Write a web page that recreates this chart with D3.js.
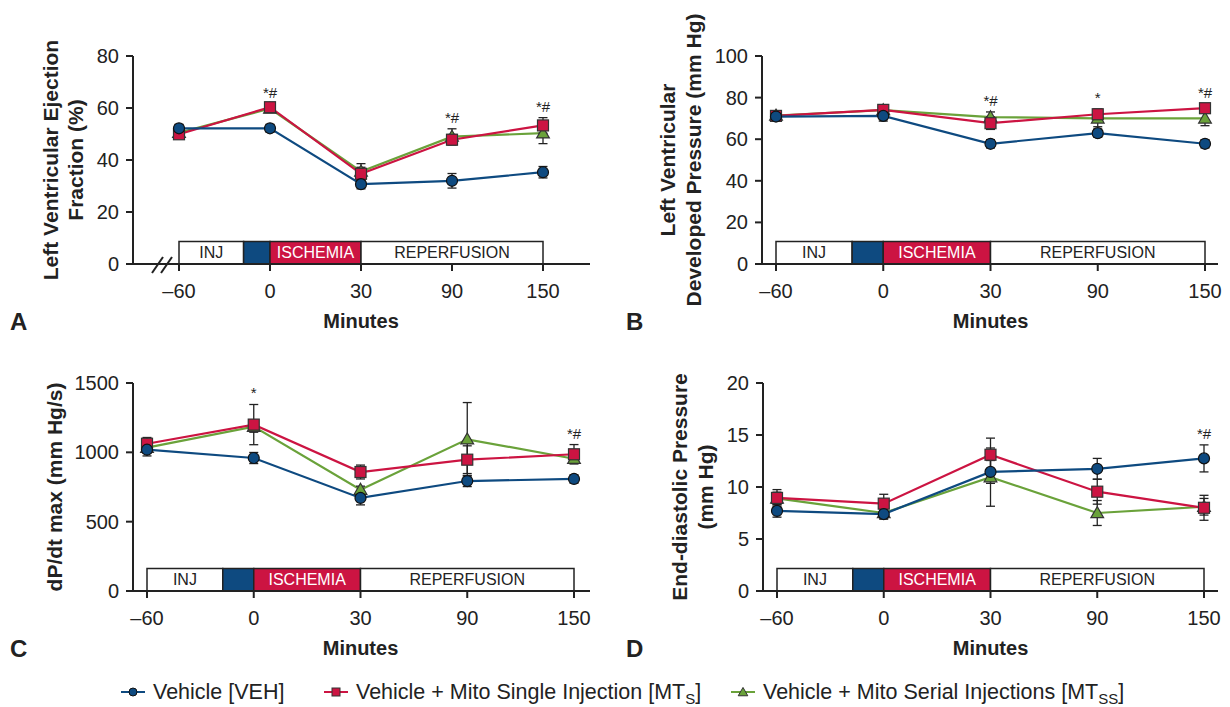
<!DOCTYPE html>
<html>
<head>
<meta charset="utf-8">
<script src="https://cdn.jsdelivr.net/npm/d3@7"></script>
<style>
  body { margin: 0; background: #fff; }
  text { font-family: "Liberation Sans", Arial, Helvetica, sans-serif; fill: #222; }
</style>
</head>
<body>
<div id="chart"></div>
<script>
// categories (x axis, equally spaced)
var minutes = ["–60", "0", "30", "90", "150"];

// panel A: LV ejection fraction (%)
var aVeh = [52.2, 52.2, 30.7, 32.0, 35.3];
var aVehErr = [1.5, 1.5, 1.8, 2.8, 2.2];
var aMts = [49.9, 60.3, 34.7, 47.8, 53.3];
var aMtsErr = [1.5, 1.2, 2.5, 2.0, 3.0];
var aMtss = [50.5, 59.8, 35.6, 49.0, 50.3];
var aMtssErr = [1.5, 1.2, 3.0, 3.0, 4.0];
var aSig = ["", "*#", "", "*#", "*#"];

// panel B: LV developed pressure (mm Hg)
var bVeh = [70.9, 71.2, 57.8, 62.9, 57.8];
var bVehErr = [2.0, 2.5, 2.0, 2.0, 2.0];
var bMts = [71.2, 74.1, 67.7, 72.0, 74.9];
var bMtsErr = [2.0, 2.0, 3.0, 2.5, 2.0];
var bMtss = [71.4, 74.0, 70.6, 70.0, 70.0];
var bMtssErr = [2.0, 2.0, 2.5, 4.0, 3.5];
var bSig = ["", "", "*#", "*", "*#"];

// panel C: dP/dt max (mm Hg/s)
var cVeh = [1019, 959, 671, 793, 808];
var cVehErr = [45, 40, 50, 40, 30];
var cMts = [1062, 1200, 858, 947, 986];
var cMtsErr = [45, 145, 50, 100, 70];
var cMtss = [1034, 1185, 731, 1094, 954];
var cMtssErr = [40, 40, 25, 265, 25];
var cSig = ["", "*", "", "", "*#"];

// panel D: end-diastolic pressure (mm Hg)
var dVeh = [7.7, 7.4, 11.45, 11.75, 12.75];
var dVehErr = [0.6, 0.5, 1.1, 1.0, 1.3];
var dMts = [8.95, 8.4, 13.1, 9.55, 8.0];
var dMtsErr = [0.8, 0.9, 1.6, 1.2, 1.2];
var dMtss = [8.9, 7.5, 10.95, 7.5, 8.1];
var dMtssErr = [0.6, 0.5, 2.8, 1.2, 0.8];
var dSig = ["", "", "", "", "*#"];

var yTicksA = [0, 20, 40, 60, 80];
var yTicksB = [0, 20, 40, 60, 80, 100];
var yTicksC = [0, 500, 1000, 1500];
var yTicksD = [0, 5, 10, 15, 20];

var phases = ["INJ", "", "ISCHEMIA", "REPERFUSION"];

var colVeh = "#0e4a80", colMts = "#cc1442", colMtss = "#6aa23a", ink = "#222";

var svg = d3.select('#chart').append('svg')
    .attr('width', 1230)
    .attr('height', 707);

var drawPanel = function (p) {
    var g = svg.append('g');
    var x = d3.scalePoint().domain(minutes).range([p.x0, p.x1]);
    var y = d3.scaleLinear().domain([0, p.ticks[p.ticks.length - 1]]).range([p.y0, p.y1]);

    // timeline box
    var xs = x(minutes[0]), xz = x("0"), x30 = x("30"), xe = x("150");
    var xb = xs + 0.71 * (xz - xs);
    var bh = 22.5;
    var segs = [
        {a: xs, b: xb, fill: "#fff", txt: phases[0], tc: ink},
        {a: xb, b: xz, fill: colVeh, txt: phases[1], tc: "#fff"},
        {a: xz, b: x30, fill: colMts, txt: phases[2], tc: "#fff"},
        {a: x30, b: xe, fill: "#fff", txt: phases[3], tc: ink}
    ];
    g.selectAll('rect.seg').data(segs).enter().append('rect')
        .attr('x', function (d) { return d.a; })
        .attr('y', p.y0 - bh)
        .attr('width', function (d) { return d.b - d.a; })
        .attr('height', bh)
        .attr('fill', function (d) { return d.fill; })
        .attr('stroke', ink).attr('stroke-width', 1.5);
    g.selectAll('text.seg').data(segs).enter().append('text')
        .attr('x', function (d) { return (d.a + d.b) / 2; })
        .attr('y', p.y0 - bh / 2 + 5.5)
        .attr('text-anchor', 'middle')
        .style('font-size', '16px')
        .style('fill', function (d) { return d.tc; })
        .text(function (d) { return d.txt; });

    // axes
    g.append('line').attr('x1', p.ax).attr('x2', p.ax).attr('y1', p.y1).attr('y2', p.y0)
        .attr('stroke', ink).attr('stroke-width', 2);
    g.append('line').attr('x1', p.ax - 7).attr('x2', p.xEnd).attr('y1', p.y0).attr('y2', p.y0)
        .attr('stroke', ink).attr('stroke-width', 2);
    g.selectAll('line.yt').data(p.ticks).enter().append('line')
        .attr('x1', p.ax - 7).attr('x2', p.ax)
        .attr('y1', function (d) { return y(d); }).attr('y2', function (d) { return y(d); })
        .attr('stroke', ink).attr('stroke-width', 2);
    g.selectAll('text.yt').data(p.ticks).enter().append('text')
        .attr('x', p.ax - 14)
        .attr('y', function (d) { return y(d) + 7; })
        .attr('text-anchor', 'end')
        .style('font-size', '20px')
        .text(function (d) { return d; });
    g.selectAll('line.xt').data(minutes).enter().append('line')
        .attr('x1', function (d) { return x(d); }).attr('x2', function (d) { return x(d); })
        .attr('y1', p.y0).attr('y2', p.y0 + 7)
        .attr('stroke', ink).attr('stroke-width', 2);
    g.selectAll('text.xt').data(minutes).enter().append('text')
        .attr('x', function (d) { return x(d); })
        .attr('y', p.y0 + 34)
        .attr('text-anchor', 'middle')
        .style('font-size', '20px')
        .text(function (d) { return d; });

    if (p.brk) {
        [0, 9].forEach(function (o) {
            g.append('line')
                .attr('x1', 152 + o).attr('y1', p.y0 + 9)
                .attr('x2', 163 + o).attr('y2', p.y0 - 7)
                .attr('stroke', ink).attr('stroke-width', 2);
        });
    }

    // titles
    g.append('text').attr('x', (p.x0 + p.x1) / 2).attr('y', p.y0 + 64)
        .attr('text-anchor', 'middle')
        .style('font-size', '20px').style('font-weight', 'bold')
        .text('Minutes');
    g.append('text').attr('x', p.lx).attr('y', p.y0 + 66)
        .style('font-size', '24px').style('font-weight', 'bold')
        .text(p.letter);
    var cy = (p.y0 + p.y1) / 2;
    p.title.forEach(function (t, i) {
        g.append('text')
            .attr('transform', 'translate(' + p.tx[i] + ',' + cy + ') rotate(-90)')
            .attr('text-anchor', 'middle')
            .style('font-size', '21px').style('font-weight', 'bold')
            .text(t);
    });

    var series = [
        {v: p.mtss, e: p.mtssErr, c: colMtss, m: 'tri'},
        {v: p.mts, e: p.mtsErr, c: colMts, m: 'sq'},
        {v: p.veh, e: p.vehErr, c: colVeh, m: 'circ'}
    ];
    var line = d3.line()
        .x(function (d, i) { return x(minutes[i]); })
        .y(function (d) { return y(d); });

    series.forEach(function (s) {
        g.append('path').attr('d', line(s.v))
            .attr('fill', 'none').attr('stroke', s.c).attr('stroke-width', 2.2);
    });
    series.forEach(function (s) {
        s.v.forEach(function (v, i) {
            var cx = x(minutes[i]);
            var top = y(v + s.e[i]), bot = y(v - s.e[i]);
            g.append('line').attr('x1', cx).attr('x2', cx).attr('y1', top).attr('y2', bot)
                .attr('stroke', ink).attr('stroke-width', 1.3);
            [top, bot].forEach(function (yy) {
                g.append('line').attr('x1', cx - 4.5).attr('x2', cx + 4.5).attr('y1', yy).attr('y2', yy)
                    .attr('stroke', ink).attr('stroke-width', 1.3);
            });
        });
    });
    series.forEach(function (s) {
        s.v.forEach(function (v, i) {
            var cx = x(minutes[i]), cyy = y(v);
            if (s.m === 'circ') {
                g.append('circle').attr('cx', cx).attr('cy', cyy).attr('r', 5.5)
                    .attr('fill', s.c).attr('stroke', '#111').attr('stroke-width', 1.2);
            } else if (s.m === 'sq') {
                g.append('rect').attr('x', cx - 5.5).attr('y', cyy - 5.5).attr('width', 11).attr('height', 11)
                    .attr('fill', s.c).attr('stroke', '#333').attr('stroke-width', 1.2);
            } else {
                g.append('path').attr('d', d3.symbol().type(d3.symbolTriangle).size(70)())
                    .attr('transform', 'translate(' + cx + ',' + (cyy + 1) + ')')
                    .attr('fill', s.c).attr('stroke', '#333').attr('stroke-width', 1.2);
            }
        });
    });

    // significance marks
    p.sig.forEach(function (t, i) {
        if (!t) return;
        var mx = d3.max(series, function (s) { return s.v[i] + s.e[i]; });
        g.append('text').attr('x', x(minutes[i])).attr('y', y(mx) - 6)
            .attr('text-anchor', 'middle')
            .style('font-size', '15px')
            .text(t);
    });
};

drawPanel({x0: 179, x1: 543, y0: 264, y1: 56, ax: 133, xEnd: 590, ticks: yTicksA, brk: true,
    letter: 'A', lx: 10, title: ['Left Ventricular Ejection', 'Fraction (%)'], tx: [58, 83],
    veh: aVeh, vehErr: aVehErr, mts: aMts, mtsErr: aMtsErr, mtss: aMtss, mtssErr: aMtssErr, sig: aSig});
drawPanel({x0: 776, x1: 1205, y0: 264, y1: 56, ax: 762, xEnd: 1218, ticks: yTicksB, brk: false,
    letter: 'B', lx: 626, title: ['Left Ventricular', 'Developed Pressure (mm Hg)'], tx: [675, 701],
    veh: bVeh, vehErr: bVehErr, mts: bMts, mtsErr: bMtsErr, mtss: bMtss, mtssErr: bMtssErr, sig: bSig});
drawPanel({x0: 147, x1: 574, y0: 591, y1: 383, ax: 133, xEnd: 590, ticks: yTicksC, brk: false,
    letter: 'C', lx: 10, title: ['dP/dt max (mm Hg/s)'], tx: [62],
    veh: cVeh, vehErr: cVehErr, mts: cMts, mtsErr: cMtsErr, mtss: cMtss, mtssErr: cMtssErr, sig: cSig});
drawPanel({x0: 777, x1: 1204, y0: 591, y1: 383, ax: 763, xEnd: 1218, ticks: yTicksD, brk: false,
    letter: 'D', lx: 626, title: ['End-diastolic Pressure', '(mm Hg)'], tx: [687, 713],
    veh: dVeh, vehErr: dVehErr, mts: dMts, mtsErr: dMtsErr, mtss: dMtss, mtssErr: dMtssErr, sig: dSig});

// legend
var legend = [
    {x: 121, c: colVeh, m: 'circ', t: 'Vehicle [VEH]', sub: ''},
    {x: 324, c: colMts, m: 'sq', t: 'Vehicle + Mito Single Injection [MT', sub: 'S'},
    {x: 731, c: colMtss, m: 'tri', t: 'Vehicle + Mito Serial Injections [MT', sub: 'SS'}
];
var ly = 692;
legend.forEach(function (d) {
    svg.append('line').attr('x1', d.x).attr('x2', d.x + 24).attr('y1', ly).attr('y2', ly)
        .attr('stroke', d.c).attr('stroke-width', 2);
    var cx = d.x + 12;
    if (d.m === 'circ') {
        svg.append('circle').attr('cx', cx).attr('cy', ly).attr('r', 4)
            .attr('fill', d.c).attr('stroke', '#111').attr('stroke-width', 1);
    } else if (d.m === 'sq') {
        svg.append('rect').attr('x', cx - 4).attr('y', ly - 4).attr('width', 8).attr('height', 8)
            .attr('fill', d.c).attr('stroke', '#333').attr('stroke-width', 1);
    } else {
        svg.append('path').attr('d', d3.symbol().type(d3.symbolTriangle).size(40)())
            .attr('transform', 'translate(' + cx + ',' + (ly + 1) + ')')
            .attr('fill', d.c).attr('stroke', '#333').attr('stroke-width', 1);
    }
    var t = svg.append('text').attr('x', d.x + 32).attr('y', ly + 7).style('font-size', '21.5px');
    t.append('tspan').text(d.t);
    if (d.sub) {
        t.append('tspan').attr('dy', 5).style('font-size', '15px').text(d.sub);
        t.append('tspan').attr('dy', -5).text(']');
    }
});
</script>
</body>
</html>
